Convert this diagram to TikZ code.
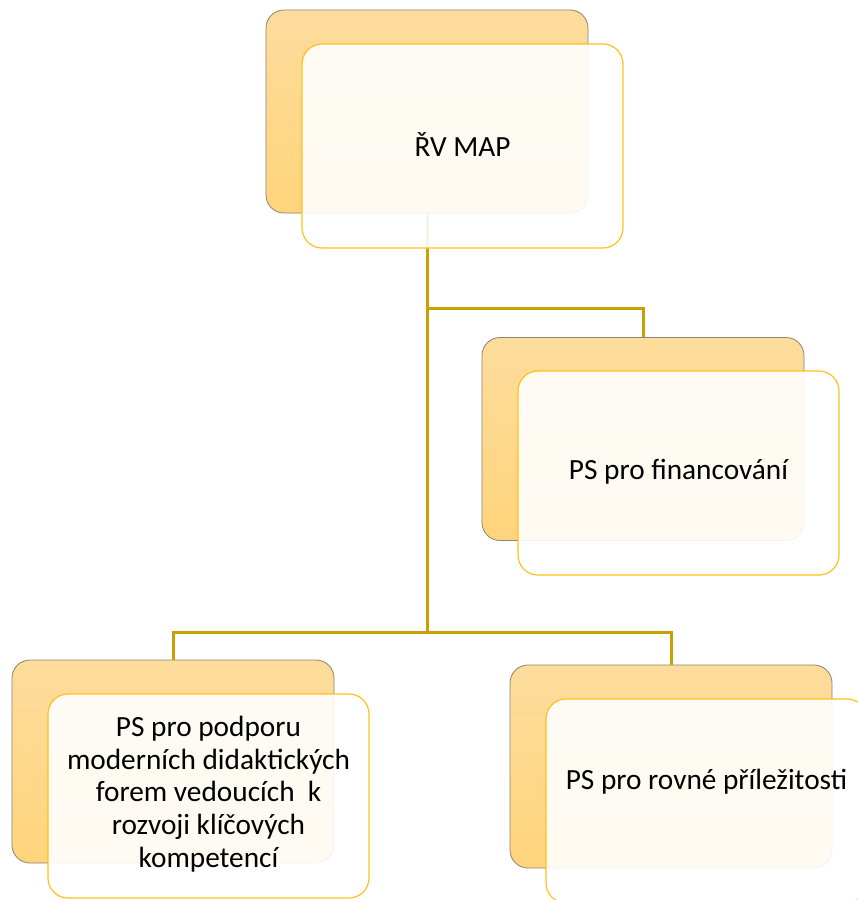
\documentclass[tikz,border=0pt]{standalone}
\usepackage{fontspec}
\setmainfont{Carlito}
\usetikzlibrary{calc}
\begin{document}
\begin{tikzpicture}[x=1pt,y=-1pt,
  backbox/.style={rectangle,rounded corners=18pt,minimum width=322pt,minimum height=203pt,inner sep=0pt,
    draw=backline,line width=0.8pt,top color=backtop,bottom color=backbot},
  frontbox/.style={rectangle,rounded corners=20pt,minimum width=321pt,minimum height=204pt,inner sep=0pt,
    draw=frontline,line width=1.2pt,fill=white,fill opacity=0.9},
  lbl/.style={font=\fontsize{29.3}{32.6}\selectfont,align=center,inner sep=0pt,text=black},
  conn/.style={draw=connline,line width=3pt}]
\definecolor{backtop}{HTML}{FDDC9C}
\definecolor{backbot}{HTML}{FFD47C}
\definecolor{backline}{HTML}{8A8470}
\definecolor{frontline}{HTML}{FFC21A}
\definecolor{connline}{HTML}{C9A000}
\useasboundingbox (0,0) rectangle (858,900);
\clip (0,0) rectangle (858,900);
\fill[white] (0,0) rectangle (858,900);
% back boxes
\node[backbox] (rvB) at (427,111.5) {};
\node[backbox] (finB) at (643,439) {};
\node[backbox] (leftB) at (173,761.5) {};
\node[backbox] (rightB) at (671,766.5) {};
% connectors
\coordinate (j1) at (rvB.south |- 0,308);
\coordinate (j2) at (rvB.south |- 0,632);
\draw[conn] (rvB.south) -- (j2);
\draw[conn] (j1) -| (finB.north);
\draw[conn] (j2) -| (leftB.north);
\draw[conn] (j2) -| (rightB.north);
% front boxes
\node[frontbox] (rvF) at (462.5,146) {};
\node[frontbox] (finF) at (678.5,473) {};
\node[frontbox] (leftF) at (208.5,796) {};
\node[frontbox] (rightF) at (706.5,801) {};
% texts
\node[lbl] (rvT) at ($(rvF.center)+(0,-1)$) {ŘV MAP};
\node[lbl] (finT) at ($(finF.center)+(0,-1)$) {PS pro financování};
\node[lbl] (leftT) at ($(leftF.center)+(0,-2)$) {PS pro podporu\\moderních didaktických\\forem vedoucích\ \ k\\rozvoji klíčových\\kompetencí};
\node[lbl] (rightT) at ($(rightF.center)+(0,-19)$) {PS pro rovné příležitosti};
\end{tikzpicture}
\end{document}
